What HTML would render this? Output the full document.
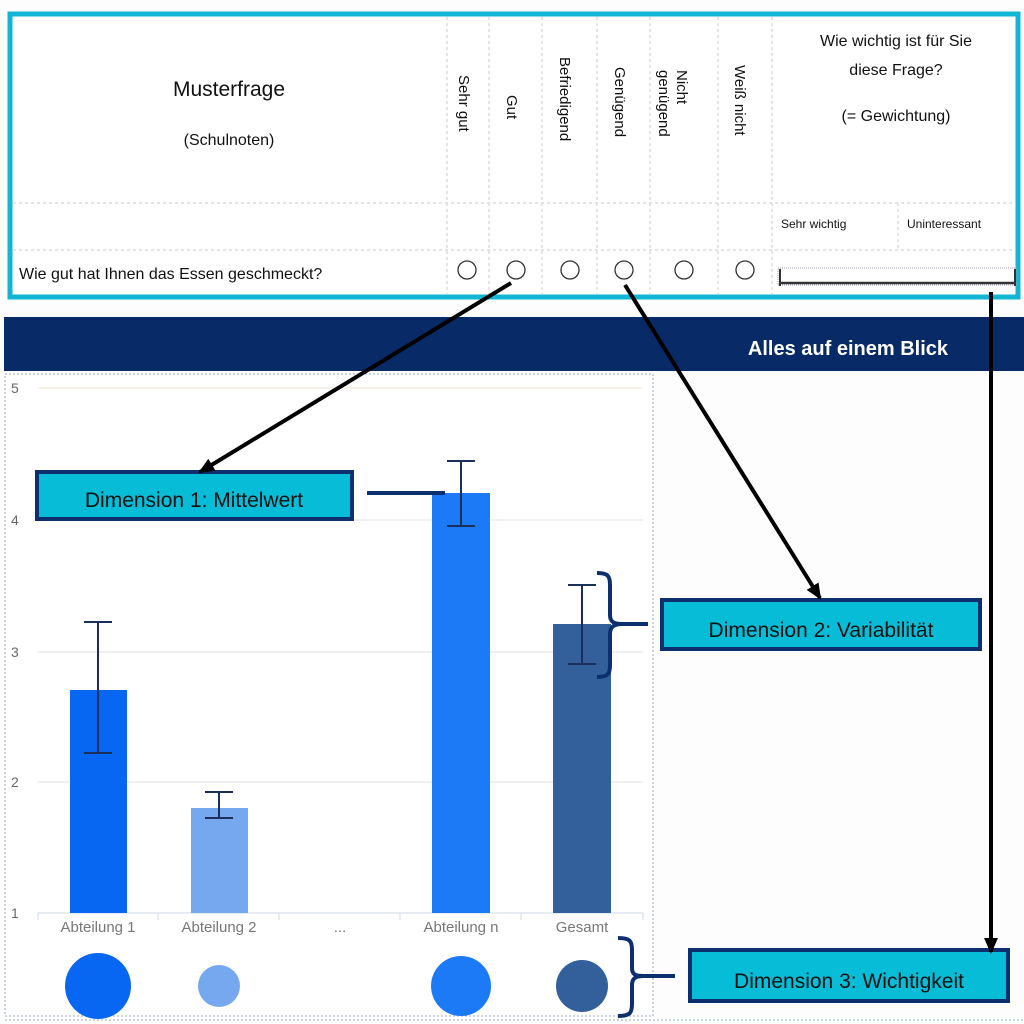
<!DOCTYPE html>
<html><head><meta charset="utf-8"><style>
html,body{margin:0;padding:0;background:#fdfdfe}
svg{display:block}
text{font-family:"Liberation Sans",sans-serif}
</style></head><body>
<svg width="1024" height="1024" viewBox="0 0 1024 1024" xmlns="http://www.w3.org/2000/svg">
<defs>
<marker id="ah" markerWidth="16" markerHeight="14" refX="14" refY="7" orient="auto" markerUnits="userSpaceOnUse">
<path d="M0,0 L16,7 L0,14 z" fill="#000"/></marker>
</defs>
<rect width="1024" height="1024" fill="#fdfdfe"/>
<rect x="10" y="14" width="1008" height="283" fill="#fff" stroke="#12b6d4" stroke-width="5"/>
<g stroke="#c8c8c8" stroke-dasharray="3,3" stroke-width="1">
<line x1="447" y1="17" x2="447" y2="294"/><line x1="489" y1="17" x2="489" y2="294"/>
<line x1="542" y1="17" x2="542" y2="294"/><line x1="597" y1="17" x2="597" y2="294"/>
<line x1="650" y1="17" x2="650" y2="294"/><line x1="718" y1="17" x2="718" y2="294"/>
<line x1="772" y1="17" x2="772" y2="294"/><line x1="898" y1="203" x2="898" y2="250"/>
<line x1="13" y1="203" x2="1015" y2="203"/><line x1="13" y1="250" x2="1015" y2="250"/>
</g>
<text x="229" y="96" font-size="21" text-anchor="middle" fill="#111">Musterfrage</text>
<text x="229" y="145" font-size="16" text-anchor="middle" fill="#111">(Schulnoten)</text>
<g font-size="15" fill="#111">
<text transform="translate(459,75) rotate(90)">Sehr gut</text>
<text transform="translate(507,95) rotate(90)">Gut</text>
<text transform="translate(560,57) rotate(90)">Befriedigend</text>
<text transform="translate(615,67) rotate(90)">Genügend</text>
<text transform="translate(677,70) rotate(90)">Nicht</text>
<text transform="translate(659,70) rotate(90)">genügend</text>
<text transform="translate(735,65) rotate(90)">Weiß nicht</text>
</g>
<text x="896" y="46" font-size="16" text-anchor="middle" fill="#111">Wie wichtig ist für Sie</text>
<text x="896" y="75" font-size="16" text-anchor="middle" fill="#111">diese Frage?</text>
<text x="896" y="121" font-size="16" text-anchor="middle" fill="#111">(= Gewichtung)</text>
<text x="781" y="228" font-size="12" fill="#111">Sehr wichtig</text>
<text x="907" y="228" font-size="12" fill="#111">Uninteressant</text>
<text x="19" y="279" font-size="16" fill="#111">Wie gut hat Ihnen das Essen geschmeckt?</text>
<g fill="#fff" stroke="#333" stroke-width="1.3">
<ellipse cx="467" cy="270" rx="9" ry="9"/><ellipse cx="516" cy="270" rx="9" ry="9"/>
<ellipse cx="570" cy="270" rx="9" ry="9"/><ellipse cx="624" cy="270" rx="9" ry="9"/>
<ellipse cx="684" cy="270" rx="9" ry="9"/><ellipse cx="745" cy="270" rx="9" ry="9"/>
</g>
<rect x="778" y="268" width="239" height="17" fill="none" stroke="#99a" stroke-dasharray="1,1"/>
<line x1="780" y1="283" x2="1015" y2="283" stroke="#333" stroke-width="2.5"/>
<line x1="780" y1="269" x2="780" y2="286" stroke="#333" stroke-width="2"/>
<line x1="1015" y1="269" x2="1015" y2="286" stroke="#333" stroke-width="2"/>
<rect x="4" y="317" width="1020" height="54" fill="#082a66"/>
<text x="948" y="355" font-size="20" font-weight="bold" text-anchor="end" fill="#fff">Alles auf einem Blick</text>
<rect x="5" y="374" width="648" height="642" fill="#fff" stroke="#9ab" stroke-dasharray="2,2"/>
<line x1="5" y1="1020" x2="1024" y2="1020" stroke="#9ab" stroke-dasharray="2,2"/>
<g stroke="#e2e2e2"><line x1="38" y1="388" x2="643" y2="388" stroke="#efe4cf"/><line x1="38" y1="520" x2="643" y2="520"/>
<line x1="38" y1="652" x2="643" y2="652"/><line x1="38" y1="782" x2="643" y2="782"/></g>
<line x1="38" y1="913" x2="643" y2="913" stroke="#cfd8e6"/>
<g stroke="#cfd8e6"><line x1="38" y1="913" x2="38" y2="920"/><line x1="158" y1="913" x2="158" y2="920"/><line x1="279" y1="913" x2="279" y2="920"/><line x1="400" y1="913" x2="400" y2="920"/><line x1="521" y1="913" x2="521" y2="920"/><line x1="643" y1="913" x2="643" y2="920"/></g>
<g font-size="14" fill="#666">
<text x="11" y="393">5</text><text x="11" y="525">4</text><text x="11" y="657">3</text><text x="11" y="787">2</text><text x="11" y="918">1</text>
</g>
<g font-size="15" fill="#777" text-anchor="middle">
<text x="98" y="932">Abteilung 1</text><text x="219" y="932">Abteilung 2</text><text x="340" y="932">...</text>
<text x="461" y="932">Abteilung n</text><text x="582" y="932">Gesamt</text>
</g>
<rect x="70" y="690" width="57" height="223" fill="#0766f2"/>
<rect x="191" y="808" width="57" height="105" fill="#76a8ef"/>
<rect x="432" y="493" width="58" height="420" fill="#1c7af6"/>
<rect x="553" y="624" width="58" height="289" fill="#33609a"/>
<g stroke="#1a2f5a" stroke-width="2" fill="none">
<path d="M98,622V753M84,622H112M84,753H112"/>
<path d="M219,792V818M205,792H233M205,818H233"/>
<path d="M461,461V526M447,461H475M447,526H475"/>
<path d="M582,585V664M568,585H596M568,664H596"/>
</g>
<circle cx="98" cy="986" r="33" fill="#0766f2"/>
<circle cx="219" cy="986" r="21" fill="#76a8ef"/>
<circle cx="461" cy="986" r="30" fill="#1c7af6"/>
<circle cx="582" cy="986" r="26" fill="#33609a"/>
<g stroke="#0e2f6e" stroke-width="4" fill="none">
<path d="M597,573 C608,573 610,576 610,585 V615 C610,622 614,624 622,624 H648 M622,624 C614,624 610,627 610,634 V665 C610,674 608,677 597,677"/>
<path d="M618,938 C630,938 632,941 632,950 V968 C632,975 636,976 644,976 H675 M644,976 C636,976 632,978 632,985 V1004 C632,1013 630,1016 618,1016"/>
<line x1="367" y1="493" x2="445" y2="493"/>
</g>
<g stroke="#0e2f6e" stroke-width="4" fill="#07bcd6">
<rect x="37" y="472" width="315" height="47"/>
<rect x="662" y="600" width="318" height="49"/>
<rect x="690" y="950" width="318" height="51"/>
</g>
<g font-size="21" fill="#111" text-anchor="middle">
<text x="194" y="507">Dimension 1: Mittelwert</text>
<text x="821" y="637">Dimension 2: Variabilität</text>
<text x="849" y="988">Dimension 3: Wichtigkeit</text>
</g>
<g stroke="#000" stroke-width="4" fill="none" marker-end="url(#ah)">
<line x1="511" y1="283" x2="200" y2="472"/>
<line x1="625" y1="285" x2="820" y2="598"/>
<line x1="991" y1="292" x2="991" y2="952"/>
</g>
</svg>
</body></html>
